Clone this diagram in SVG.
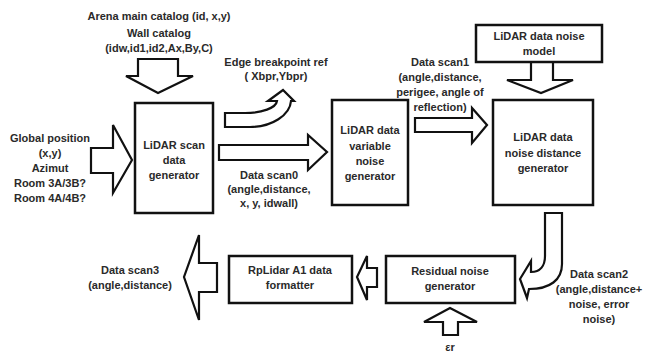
<svg xmlns="http://www.w3.org/2000/svg" width="649" height="352" viewBox="0 0 649 352">
<style>
.box{fill:#fff;stroke:#111;stroke-width:2.5}
.arr{fill:#fff;stroke:#111;stroke-width:2.2;stroke-linejoin:miter}
text{font-family:"Liberation Sans",Arial,sans-serif;font-weight:bold;font-size:11px;fill:#2a2a2a;text-anchor:middle}
</style>
<rect width="649" height="352" fill="#fff"/>
<g id="connectors">
<path class="arr" d="M138,59 L178,59 L178,76 L193,76 L158,93 L126,76 L138,76 Z"/>
<path class="arr" d="M91,148 L113,148 L113,125 L132,160 L113,193 L113,173 L91,173 Z"/>
<path class="arr" d="M219,145 L308,145 L308,135 L327,152 L308,170 L308,160 L219,160 Z"/>
<path class="arr" d="M225,113 L245,113 C262,113 276,108 277,101 L268,101 L283,90 L294,101 L291,101 C290,115 272,127 250,127 L225,127 Z"/>
<path class="arr" d="M415,118 L472,118 L472,108 L487,125 L472,143 L472,132 L415,132 Z"/>
<path class="arr" d="M531,62 L553,62 L553,80 L573,80 L541,93 L507,80 L531,80 Z"/>
<path class="arr" d="M545,213 L562,213 L562,264 C562,280 550,289 529,289 L527,298 L520,279 L531,261 L531,272 C540,272 545,266 545,256 Z"/>
<path class="arr" d="M443,335 L458,335 L458,322 L477,322 L450,308 L424,322 L443,322 Z"/>
<path class="arr" d="M377,268 L367,268 L367,256 L357,277 L367,300 L367,287 L377,287 Z"/>
<path class="arr" d="M217,263 L199,263 L199,235 L184,277 L199,320 L199,292 L217,292 Z"/>
</g>
<g id="inputs-catalog">
<text x="159" y="20">Arena main catalog (id, x,y)</text>
<text x="159" y="37">Wall catalog</text>
<text x="159" y="52">(idw,id1,id2,Ax,By,C)</text>
</g>
<g id="inputs-position">
<text x="50" y="142">Global position</text>
<text x="50" y="157">(x,y)</text>
<text x="50" y="172">Azimut</text>
<text x="50" y="187">Room 3A/3B?</text>
<text x="50" y="202">Room 4A/4B?</text>
</g>
<g id="scan-generator">
<rect class="box" x="135" y="103" width="78" height="110"/>
<text x="174" y="149">LiDAR scan</text>
<text x="174" y="164">data</text>
<text x="174" y="179">generator</text>
</g>
<g id="edge-label">
<text x="276" y="66">Edge breakpoint ref</text>
<text x="276" y="80">( Xbpr,Ybpr)</text>
</g>
<g id="scan0-label">
<text x="269" y="179">Data scan0</text>
<text x="269" y="193">(angle,distance,</text>
<text x="269" y="207">x, y, idwall)</text>
</g>
<g id="variable-noise-generator">
<rect class="box" x="332" y="100" width="76" height="105"/>
<text x="370" y="134">LiDAR data</text>
<text x="370" y="150">variable</text>
<text x="370" y="165">noise</text>
<text x="370" y="180">generator</text>
</g>
<g id="scan1-label">
<text x="440" y="66">Data scan1</text>
<text x="440" y="81">(angle,distance,</text>
<text x="440" y="96">perigee, angle of</text>
<text x="440" y="111">reflection)</text>
</g>
<g id="noise-model">
<rect class="box" x="476" y="25" width="126" height="37"/>
<text x="539" y="40">LiDAR data noise</text>
<text x="539" y="55">model</text>
</g>
<g id="noise-distance-generator">
<rect class="box" x="493" y="100" width="100" height="105"/>
<text x="543" y="141">LiDAR data</text>
<text x="543" y="157">noise distance</text>
<text x="543" y="172">generator</text>
</g>
<g id="scan2-label">
<text x="599" y="278">Data scan2</text>
<text x="599" y="293">(angle,distance+</text>
<text x="599" y="308">noise, error</text>
<text x="599" y="323">noise)</text>
</g>
<g id="residual-noise-generator">
<rect class="box" x="386" y="256" width="129" height="47"/>
<text x="450" y="275">Residual noise</text>
<text x="450" y="290">generator</text>
</g>
<g id="epsilon-label">
<text x="450" y="351">εr</text>
</g>
<g id="rplidar-formatter">
<rect class="box" x="229" y="256" width="123" height="47"/>
<text x="290" y="274">RpLidar A1 data</text>
<text x="290" y="289">formatter</text>
</g>
<g id="scan3-label">
<text x="130" y="274">Data scan3</text>
<text x="130" y="289">(angle,distance)</text>
</g>
</svg>
